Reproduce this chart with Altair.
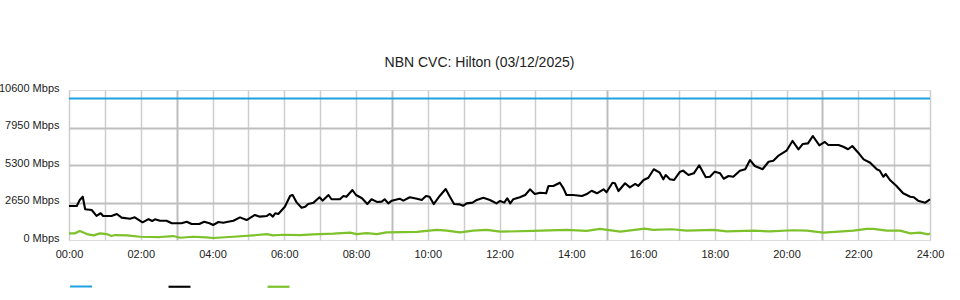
import altair as alt
import pandas as pd

# ---- data ----
series_names = ["Capacity", "Traffic In", "Traffic Out"]
series_colors = ["#1EA1E1", "#000000", "#7DC12B"]

cap_minutes = [0, 1440]
cap_values = [10000, 10000]

in_minutes = [0, 13, 18, 23, 27, 38, 46, 53, 57, 71, 80, 88, 102, 110, 123, 133, 139, 144, 152, 163,
              172, 188, 197, 205, 218, 226, 235, 241, 250, 258, 266, 275, 286, 297, 311, 319, 331, 336,
              341, 345, 350, 361, 370, 374, 381, 389, 395, 400, 409, 419, 424, 434, 439, 453, 459, 464,
              474, 480, 490, 499, 506, 515, 523, 528, 534, 540, 553, 559, 570, 582, 590, 597, 603, 610,
              620, 630, 637, 644, 653, 659, 665, 675, 682, 693, 704, 715, 721, 728, 733, 738, 743, 754,
              763, 771, 779, 788, 798, 802, 810, 821, 827, 832, 843, 858, 866, 874, 883, 894, 899, 909,
              913, 919, 930, 938, 947, 952, 961, 969, 978, 988, 994, 998, 1005, 1012, 1022, 1027, 1036,
              1045, 1054, 1065, 1072, 1080, 1089, 1095, 1103, 1111, 1122, 1131, 1139, 1147, 1160, 1170,
              1178, 1186, 1200, 1210, 1220, 1227, 1236, 1244, 1255, 1264, 1270, 1287, 1295, 1303, 1310,
              1320, 1329, 1340, 1351, 1356, 1362, 1366, 1373, 1384, 1395, 1407, 1413, 1420, 1432, 1437, 1440]
in_values = [2400, 2400, 2830, 3060, 2170, 2120, 1700, 1890, 1700, 1700, 1840, 1580, 1505, 1600, 1250,
             1480, 1340, 1460, 1360, 1360, 1180, 1180, 1290, 1130, 1130, 1290, 1180, 1060, 1270, 1220,
             1290, 1360, 1600, 1410, 1770, 1650, 1700, 1840, 1650, 1890, 1840, 2350, 3130, 3180, 2640,
             2280, 2350, 2540, 2640, 3020, 2780, 3180, 2880, 2880, 3110, 3060, 3530, 3180, 2950, 2540,
             2880, 2690, 2710, 2880, 2590, 2780, 2920, 2780, 3020, 2920, 2830, 3110, 3060, 2540, 3110,
             3600, 3060, 2540, 2520, 2420, 2590, 2640, 2830, 2990, 2830, 2590, 2760, 2640, 2950, 2590,
             2880, 3020, 3180, 3580, 3250, 3340, 3300, 3820, 3820, 4050, 3650, 3180, 3180, 3110, 3250,
             3480, 3300, 3580, 3370, 4050, 4010, 3460, 4010, 3720, 3960, 3820, 4240, 4400, 5000, 4760,
             4290, 4590, 4290, 4240, 4830, 4900, 4590, 4710, 5280, 4430, 4470, 4830, 4710, 4330, 4520,
             4470, 4900, 5000, 5650, 5230, 5000, 5530, 5600, 5940, 6310, 7000, 6410, 6780, 6830, 7350,
             6690, 6930, 6710, 6710, 6590, 6410, 6640, 6170, 5700, 5460, 5000, 4900, 4470, 4660, 4240,
             3820, 3300, 3060, 3020, 2780, 2640, 2780, 2880]

out_minutes = [0, 10, 18, 30, 41, 52, 63, 71, 77, 97, 119, 152, 174, 186, 207, 230, 241, 275, 308, 331,
               341, 358, 386, 408, 442, 470, 481, 498, 515, 531, 582, 615, 632, 654, 676, 699, 721, 776,
               832, 866, 888, 922, 963, 977, 1008, 1033, 1078, 1100, 1145, 1172, 1211, 1234, 1262, 1312,
               1334, 1345, 1368, 1390, 1407, 1423, 1437, 1440]
out_values = [470, 470, 640, 420, 330, 470, 420, 280, 350, 330, 230, 210, 280, 160, 230, 190, 140, 230,
              330, 420, 330, 370, 350, 400, 450, 520, 420, 490, 420, 540, 570, 710, 660, 540, 660, 710,
              590, 640, 710, 640, 780, 590, 800, 710, 760, 660, 710, 610, 660, 610, 690, 660, 520, 660,
              780, 780, 660, 660, 470, 520, 400, 470]

y_ticks = [0, 2650, 5300, 7950, 10600]
x_ticks = list(range(0, 1441, 60))

title_text = "NBN CVC: Hilton (03/12/2025)"

# ---- table ----
rows = []
for name, mins, vals in [(series_names[0], cap_minutes, cap_values),
                         (series_names[1], in_minutes, in_values),
                         (series_names[2], out_minutes, out_values)]:
    for m, v in zip(mins, vals):
        rows.append({"series": name, "minute": m, "value": v})
df = pd.DataFrame(rows)

FONT = "Liberation Sans"

x_enc = alt.X(
    "minute:Q",
    scale=alt.Scale(domain=[0, 1440], nice=False, zero=False),
    axis=alt.Axis(
        values=x_ticks,
        labelExpr="datum.value % 120 == 0 ? ((floor(datum.value/60) < 10 ? '0' : '') + floor(datum.value/60) + ':00') : ''",
        title=None, domain=False, ticks=False, labelPadding=8,
        labelFont=FONT, labelFontSize=11, labelColor="#222222",
        labelOverlap=False, labelFlush=False, labelBound=False,
        gridColor={"condition": {"test": "datum.value % 360 == 180", "value": "#bcbcbc"}, "value": "#cdcdcd"},
        gridWidth={"condition": {"test": "datum.value % 360 == 180", "value": 2}, "value": 1.5},
    ),
)
y_enc = alt.Y(
    "value:Q",
    scale=alt.Scale(domain=[0, 10600], nice=False),
    axis=alt.Axis(
        values=y_ticks,
        labelExpr="datum.value + ' Mbps'",
        title=None, domain=False, ticks=False, labelPadding=10, labelOffset=-2,
        labelFont=FONT, labelFontSize=11, labelColor="#222222",
        labelFlush=False,
        gridColor="#bfbfbf", gridWidth=2,
        gridOpacity={"condition": {"test": "datum.value == 0 || datum.value == 10600", "value": 0}, "value": 1},
    ),
)
color_enc = alt.Color(
    "series:N",
    scale=alt.Scale(domain=series_names, range=series_colors),
    legend=alt.Legend(
        orient="none", legendX=0, legendY=184, direction="horizontal",
        title=None, symbolType="stroke", symbolSize=484, symbolStrokeWidth=2.5,
        labelExpr="''", labelOffset=0, columnPadding=68, padding=0,
    ),
)

lines = alt.Chart(df).mark_line(strokeJoin="round", strokeCap="butt").encode(
    x=x_enc, y=y_enc, color=color_enc,
    strokeWidth=alt.StrokeWidth("series:N", scale=alt.Scale(domain=series_names, range=[2, 2.2, 2.5]), legend=None),
    order="minute:Q",
)

chart = lines.properties(
    width=861, height=150,
    title=alt.TitleParams(title_text, font=FONT, fontSize=14, fontWeight="normal", color="#222222",
                          anchor="middle", offset=12, dx=-20),
    autosize=alt.AutoSizeParams(type="none"),
    padding={"left": 69, "top": 90, "right": 30, "bottom": 60},
).configure_view(stroke=None).configure(background="white")

chart.save("out.html", embed_options={"renderer": "svg", "actions": False})
